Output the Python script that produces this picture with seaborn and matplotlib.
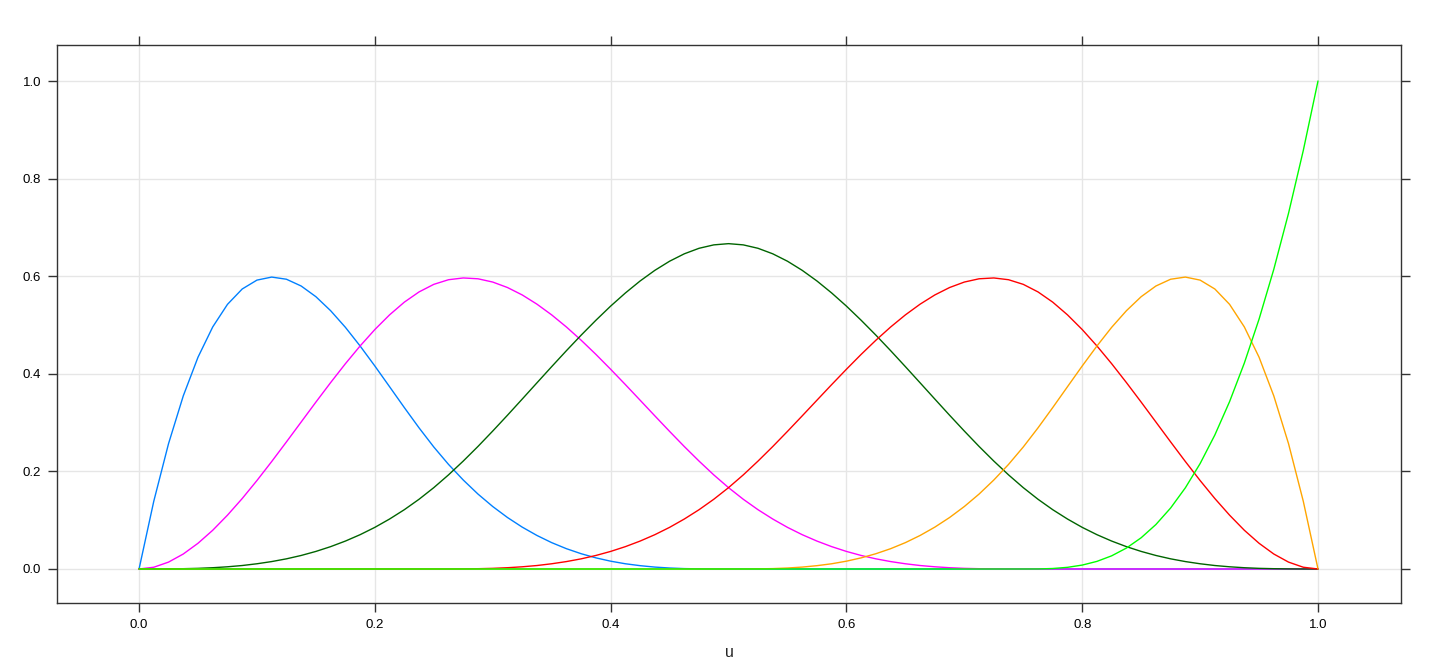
import numpy as np
import pandas as pd
import matplotlib
matplotlib.use("Agg")
import matplotlib.pyplot as plt
import seaborn as sns

# ---- data: cubic B-spline basis values ----
u = [0.0, 0.0125, 0.025, 0.0375, 0.05, 0.0625, 0.075, 0.0875, 0.1, 0.1125,
     0.125, 0.1375, 0.15, 0.1625, 0.175, 0.1875, 0.2, 0.2125, 0.225, 0.2375,
     0.25, 0.2625, 0.275, 0.2875, 0.3, 0.3125, 0.325, 0.3375, 0.35, 0.3625,
     0.375, 0.3875, 0.4, 0.4125, 0.425, 0.4375, 0.45, 0.4625, 0.475, 0.4875,
     0.5, 0.5125, 0.525, 0.5375, 0.55, 0.5625, 0.575, 0.5875, 0.6, 0.6125,
     0.625, 0.6375, 0.65, 0.6625, 0.675, 0.6875, 0.7, 0.7125, 0.725, 0.7375,
     0.75, 0.7625, 0.775, 0.7875, 0.8, 0.8125, 0.825, 0.8375, 0.85, 0.8625,
     0.875, 0.8875, 0.9, 0.9125, 0.925, 0.9375, 0.95, 0.9625, 0.975, 0.9875,
     1.0]

b1 = ([0, 0.1390, 0.2568, 0.3547, 0.4340, 0.4961, 0.5423, 0.5738, 0.5920, 0.5982,
       0.5938, 0.5799, 0.5580, 0.5293, 0.4953, 0.4570, 0.4160, 0.3735, 0.3308, 0.2892,
       0.2500, 0.2143, 0.1823, 0.1535, 0.1280, 0.1055, 0.0858, 0.0687, 0.0540, 0.0416,
       0.0313, 0.0228, 0.0160, 0.0107, 0.0068, 0.0039, 0.0020, 0.0008, 0.0003, 0.0000,
       0] + [0] * 40)

b2 = ([0, 0.0036, 0.0141, 0.0307, 0.0527, 0.0794, 0.1103, 0.1444, 0.1813, 0.2202,
       0.2604, 0.3012, 0.3420, 0.3820, 0.4206, 0.4570, 0.4907, 0.5208, 0.5468, 0.5678,
       0.5833, 0.5928, 0.5964, 0.5947, 0.5880, 0.5768, 0.5616, 0.5427, 0.5207, 0.4959,
       0.4688, 0.4398, 0.4093, 0.3779, 0.3459, 0.3138, 0.2820, 0.2509, 0.2211, 0.1928,
       0.1667, 0.1429, 0.1215, 0.1024, 0.0853, 0.0703, 0.0572, 0.0458, 0.0360, 0.0277,
       0.0208, 0.0152, 0.0107, 0.0071, 0.0045, 0.0026, 0.0013, 0.0006, 0.0002, 0.0000,
       0] + [0] * 20)

b3 = [0, 0.0000, 0.0002, 0.0006, 0.0013, 0.0026, 0.0045, 0.0071, 0.0107, 0.0152,
      0.0208, 0.0277, 0.0360, 0.0458, 0.0572, 0.0703, 0.0853, 0.1024, 0.1215, 0.1429,
      0.1667, 0.1929, 0.2212, 0.2512, 0.2827, 0.3151, 0.3482, 0.3815, 0.4147, 0.4474,
      0.4792, 0.5097, 0.5387, 0.5656, 0.5902, 0.6120, 0.6307, 0.6459, 0.6572, 0.6642,
      0.6667, 0.6642, 0.6572, 0.6459, 0.6307, 0.6120, 0.5902, 0.5656, 0.5387, 0.5097,
      0.4792, 0.4474, 0.4147, 0.3815, 0.3482, 0.3151, 0.2827, 0.2512, 0.2212, 0.1929,
      0.1667, 0.1429, 0.1215, 0.1024, 0.0853, 0.0703, 0.0572, 0.0458, 0.0360, 0.0277,
      0.0208, 0.0152, 0.0107, 0.0071, 0.0045, 0.0026, 0.0013, 0.0006, 0.0002, 0.0000,
      0]

b4 = ([0] * 20 +
      [0, 0.0000, 0.0002, 0.0006, 0.0013, 0.0026, 0.0045, 0.0071, 0.0107, 0.0152,
       0.0208, 0.0277, 0.0360, 0.0458, 0.0572, 0.0703, 0.0853, 0.1024, 0.1215, 0.1429,
       0.1667, 0.1928, 0.2211, 0.2509, 0.2820, 0.3138, 0.3459, 0.3779, 0.4093, 0.4398,
       0.4688, 0.4959, 0.5207, 0.5427, 0.5616, 0.5768, 0.5880, 0.5947, 0.5964, 0.5928,
       0.5833, 0.5678, 0.5468, 0.5208, 0.4907, 0.4570, 0.4206, 0.3820, 0.3420, 0.3012,
       0.2604, 0.2202, 0.1813, 0.1444, 0.1103, 0.0794, 0.0527, 0.0307, 0.0141, 0.0036,
       0])

b5 = ([0] * 40 +
      [0, 0.0000, 0.0003, 0.0008, 0.0020, 0.0039, 0.0068, 0.0107, 0.0160, 0.0228,
       0.0313, 0.0416, 0.0540, 0.0687, 0.0858, 0.1055, 0.1280, 0.1535, 0.1823, 0.2143,
       0.2500, 0.2892, 0.3308, 0.3735, 0.4160, 0.4570, 0.4953, 0.5293, 0.5580, 0.5799,
       0.5938, 0.5982, 0.5920, 0.5738, 0.5423, 0.4961, 0.4340, 0.3547, 0.2568, 0.1390,
       0])

b6 = ([0] * 61 +
      [0.0001, 0.0010, 0.0034, 0.0080, 0.0156, 0.0270, 0.0429, 0.0640, 0.0911, 0.1250,
       0.1664, 0.2160, 0.2746, 0.3430, 0.4219, 0.5120, 0.6141, 0.7290, 0.8574, 1.0000])

basis_names = ["1", "2", "3", "4", "5", "6"]
line_colors = ["#0080ff", "#ff00ff", "#006400", "#ff0000", "#ffa500", "#00ff00"]

series = [b1, b2, b3, b4, b5, b6]
df = pd.concat([pd.DataFrame({"u": u, "value": s, "basis": name})
                for name, s in zip(basis_names, series)], ignore_index=True)

# ---- plot (lattice-like look) ----
sns.set_style("white")
plt.rcParams["font.family"] = ["Liberation Sans", "DejaVu Sans"]

fig = plt.figure(figsize=(14.4, 6.72), dpi=100)
ax = fig.add_axes([57 / 1440, 1 - 603 / 672, (1401 - 57) / 1440, (603 - 45) / 672])

xt = [0.0, 0.2, 0.4, 0.6, 0.8, 1.0]
yt = [0.0, 0.2, 0.4, 0.6, 0.8, 1.0]
for v in xt:
    ax.axvline(v, color="#e6e6e6", lw=1, zorder=0)
for v in yt:
    ax.axhline(v, color="#e6e6e6", lw=1, zorder=0)

sns.lineplot(data=df, x="u", y="value", hue="basis", palette=line_colors,
             estimator=None, sort=False, legend=False, lw=1.0, ax=ax)

ax.set_xlim(-0.0696, 1.0704)
ax.set_ylim(-0.0697, 1.0738)
ax.set_xticks(xt)
ax.set_yticks(yt)
ax.set_xticklabels([f"{v:.1f}" for v in xt])
ax.set_yticklabels([f"{v:.1f}" for v in yt])
ax.tick_params(direction="out", length=6.5, width=1, colors="#333333",
               labelcolor="black", labelsize=9.5, pad=5,
               top=True, right=True, bottom=True, left=True,
               labeltop=False, labelright=False)
for sp in ax.spines.values():
    sp.set_color("#333333")
    sp.set_linewidth(1.0)
    sp.set_visible(True)

ax.set_xlabel("u", fontsize=11.5, labelpad=10)
ax.set_ylabel("")

fig.savefig("out.png", dpi=100)
